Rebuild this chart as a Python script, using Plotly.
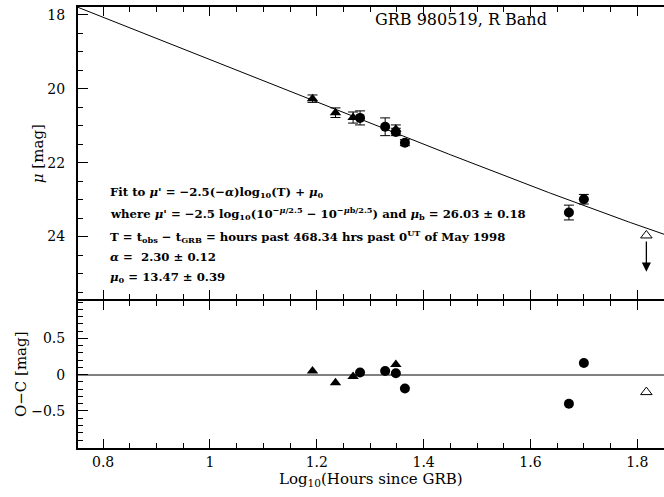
import numpy as np
import plotly.graph_objects as go

# ---------------- data ----------------
tri_logt = [1.192, 1.235, 1.268, 1.348]
tri_mag = [20.27, 20.65, 20.78, 21.10]
tri_err = [0.10, 0.13, 0.15, 0.12]
tri_oc = [0.05, -0.11, -0.025, 0.14]

circ_logt = [1.281, 1.328, 1.348, 1.365, 1.672, 1.700]
circ_mag = [20.79, 21.03, 21.17, 21.46, 23.35, 22.99]
circ_err = [0.19, 0.24, 0.10, 0.08, 0.20, 0.13]
circ_oc = [0.03, 0.05, 0.02, -0.19, -0.40, 0.16]

lim_logt = [1.817]
lim_mag = [23.97]
lim_arrow_end = [24.95]
lim_oc = [-0.24]

# fit parameters (from the chart text)
alpha = 2.30
mu0 = 13.47
mub = 26.03

x_range = [0.753, 1.850]
top_range = [25.68, 17.79]
bot_range = [-1.01, 1.02]

x_ticks = [0.8, 1.0, 1.2, 1.4, 1.6, 1.8]
x_ticklabels = ["0.8", "1", "1.2", "1.4", "1.6", "1.8"]
top_ticks = [18, 20, 22, 24]
top_ticklabels = ["18", "20", "22", "24"]
bot_ticks = [-0.5, 0, 0.5]
bot_ticklabels = ["\u22120.5", "0", "0.5"]

# fit curve: mu = -2.5 log10(10^(-mu'/2.5) + 10^(-mub/2.5)), mu' = 2.5*alpha*logT + mu0
fit_x = np.linspace(x_range[0], x_range[1], 300)
mu_prime = 2.5 * alpha * fit_x + mu0
fit_y = -2.5 * np.log10(10 ** (-mu_prime / 2.5) + 10 ** (-mub / 2.5))

serif = "DejaVu Serif"

fig = go.Figure()

fig.add_trace(go.Scatter(x=fit_x, y=fit_y, mode="lines",
                         line=dict(color="black", width=1),
                         xaxis="x", yaxis="y", hoverinfo="skip"))

err_style = dict(type="data", color="black", thickness=1, width=5)

fig.add_trace(go.Scatter(x=tri_logt, y=tri_mag, mode="markers",
                         marker=dict(symbol="triangle-up", size=10, color="black"),
                         error_y=dict(array=tri_err, **err_style),
                         xaxis="x", yaxis="y"))
fig.add_trace(go.Scatter(x=circ_logt, y=circ_mag, mode="markers",
                         marker=dict(symbol="circle", size=10, color="black"),
                         error_y=dict(array=circ_err, **err_style),
                         xaxis="x", yaxis="y"))
fig.add_trace(go.Scatter(x=lim_logt, y=lim_mag, mode="markers",
                         marker=dict(symbol="triangle-up-open", size=10, color="black",
                                     line=dict(width=1, color="black")),
                         xaxis="x", yaxis="y"))

# residual panel
fig.add_trace(go.Scatter(x=tri_logt, y=tri_oc, mode="markers",
                         marker=dict(symbol="triangle-up", size=10, color="black"),
                         xaxis="x2", yaxis="y2"))
fig.add_trace(go.Scatter(x=circ_logt, y=circ_oc, mode="markers",
                         marker=dict(symbol="circle", size=10, color="black"),
                         xaxis="x2", yaxis="y2"))
fig.add_trace(go.Scatter(x=lim_logt, y=lim_oc, mode="markers",
                         marker=dict(symbol="triangle-up-open", size=10, color="black",
                                     line=dict(width=1, color="black")),
                         xaxis="x2", yaxis="y2"))

annotations = []
# upper limit arrow
annotations.append(dict(x=lim_logt[0], y=lim_arrow_end[0], ax=lim_logt[0], ay=lim_mag[0] + 0.12,
                        xref="x", yref="y", axref="x", ayref="y", showarrow=True,
                        arrowhead=2, arrowsize=1.4, arrowwidth=1.3, arrowcolor="black", text=""))

annotations.append(dict(x=0.503, y=0.971, xref="paper", yref="paper", xanchor="left", yanchor="middle",
                        text="GRB 980519, R Band", showarrow=False,
                        font=dict(family=serif, size=16, color="black")))

text_lines = [
    "<b>Fit to <i>μ</i>' = −2.5(−<i>α</i>)log<sub>10</sub>(T) + <i>μ</i><sub>0</sub></b>",
    "<b>where <i>μ</i>' = −2.5 log<sub>10</sub>(10<sup>−<i>μ</i>/2.5</sup> − 10<sup>−<i>μ</i>b/2.5</sup>) and <i>μ</i><sub>b</sub> = 26.03 ± 0.18</b>",
    "<b>T = t<sub>obs</sub> − t<sub>GRB</sub> = hours past 468.34 hrs past 0<sup>UT</sup> of May 1998</b>",
    "<b><i>α</i> =  2.30 ± 0.12</b>",
    "<b><i>μ</i><sub>0</sub> = 13.47 ± 0.39</b>",
]
text_y = [0.579, 0.532, 0.479, 0.432, 0.386]
for t, yy in zip(text_lines, text_y):
    annotations.append(dict(x=0.0507, y=yy, xref="paper", yref="paper", xanchor="left", yanchor="middle",
                            text=t, showarrow=False,
                            font=dict(family=serif, size=11.7, color="black")))

# axis titles
annotations.append(dict(x=0.5006, y=-0.072, xref="paper", yref="paper", xanchor="center", yanchor="middle",
                        text="Log<sub>10</sub>(Hours since GRB)", showarrow=False,
                        font=dict(family=serif, size=15, color="black")))
annotations.append(dict(x=-0.067, y=0.668, xref="paper", yref="paper", xanchor="center", yanchor="middle",
                        text="<i>μ</i> [mag]", textangle=-90, showarrow=False,
                        font=dict(family=serif, size=15, color="black")))
annotations.append(dict(x=-0.097, y=0.168, xref="paper", yref="paper", xanchor="center", yanchor="middle",
                        text="O−C [mag]", textangle=-90, showarrow=False,
                        font=dict(family=serif, size=15, color="black")))

tickfont = dict(family=serif, size=14, color="black")
bot_dom = [0.0, 0.3342]
top_dom = [0.3386, 1.0]

fig.update_layout(
    width=664, height=497,
    margin=dict(l=78, r=0, t=7, b=49),
    paper_bgcolor="white", plot_bgcolor="white",
    showlegend=False,
    annotations=annotations,
    xaxis=dict(domain=[0, 1], anchor="y", range=x_range, showgrid=False, zeroline=False,
               showline=True, linecolor="black", linewidth=2, mirror="ticks",
               ticks="inside", ticklen=9, tickcolor="black", tickwidth=1,
               tickvals=x_ticks, showticklabels=False,
               minor=dict(dtick=0.05, ticks="inside", ticklen=5, tickcolor="black", tickwidth=1)),
    yaxis=dict(domain=top_dom, anchor="x", range=top_range, showgrid=False, zeroline=False,
               showline=True, linecolor="black", linewidth=2,
               ticks="inside", ticklen=10, tickcolor="black", tickwidth=1,
               tickvals=top_ticks, ticktext=top_ticklabels, tickfont=tickfont,
               ticklabelstandoff=8,
               minor=dict(dtick=0.5, ticks="inside", ticklen=5, tickcolor="black", tickwidth=1)),
    xaxis2=dict(domain=[0, 1], anchor="y2", range=x_range, showgrid=False, zeroline=False,
                showline=True, linecolor="black", linewidth=2, mirror="ticks",
                ticks="inside", ticklen=9, tickcolor="black", tickwidth=1,
                tickvals=x_ticks, ticktext=x_ticklabels, tickfont=tickfont,
                minor=dict(dtick=0.05, ticks="inside", ticklen=5, tickcolor="black", tickwidth=1)),
    yaxis2=dict(domain=bot_dom, anchor="x2", range=bot_range, showgrid=False,
                zeroline=True, zerolinecolor="gray", zerolinewidth=2,
                showline=True, linecolor="black", linewidth=2,
                ticks="inside", ticklen=10, tickcolor="black", tickwidth=1,
                tickvals=bot_ticks, ticktext=bot_ticklabels, tickfont=tickfont,
                ticklabelstandoff=8,
                minor=dict(dtick=0.1, ticks="inside", ticklen=5, tickcolor="black", tickwidth=1)),
)

fig.write_html("out.html", config={"displayModeBar": False},
               post_script="document.body.style.margin='0';document.body.style.overflow='hidden';")
